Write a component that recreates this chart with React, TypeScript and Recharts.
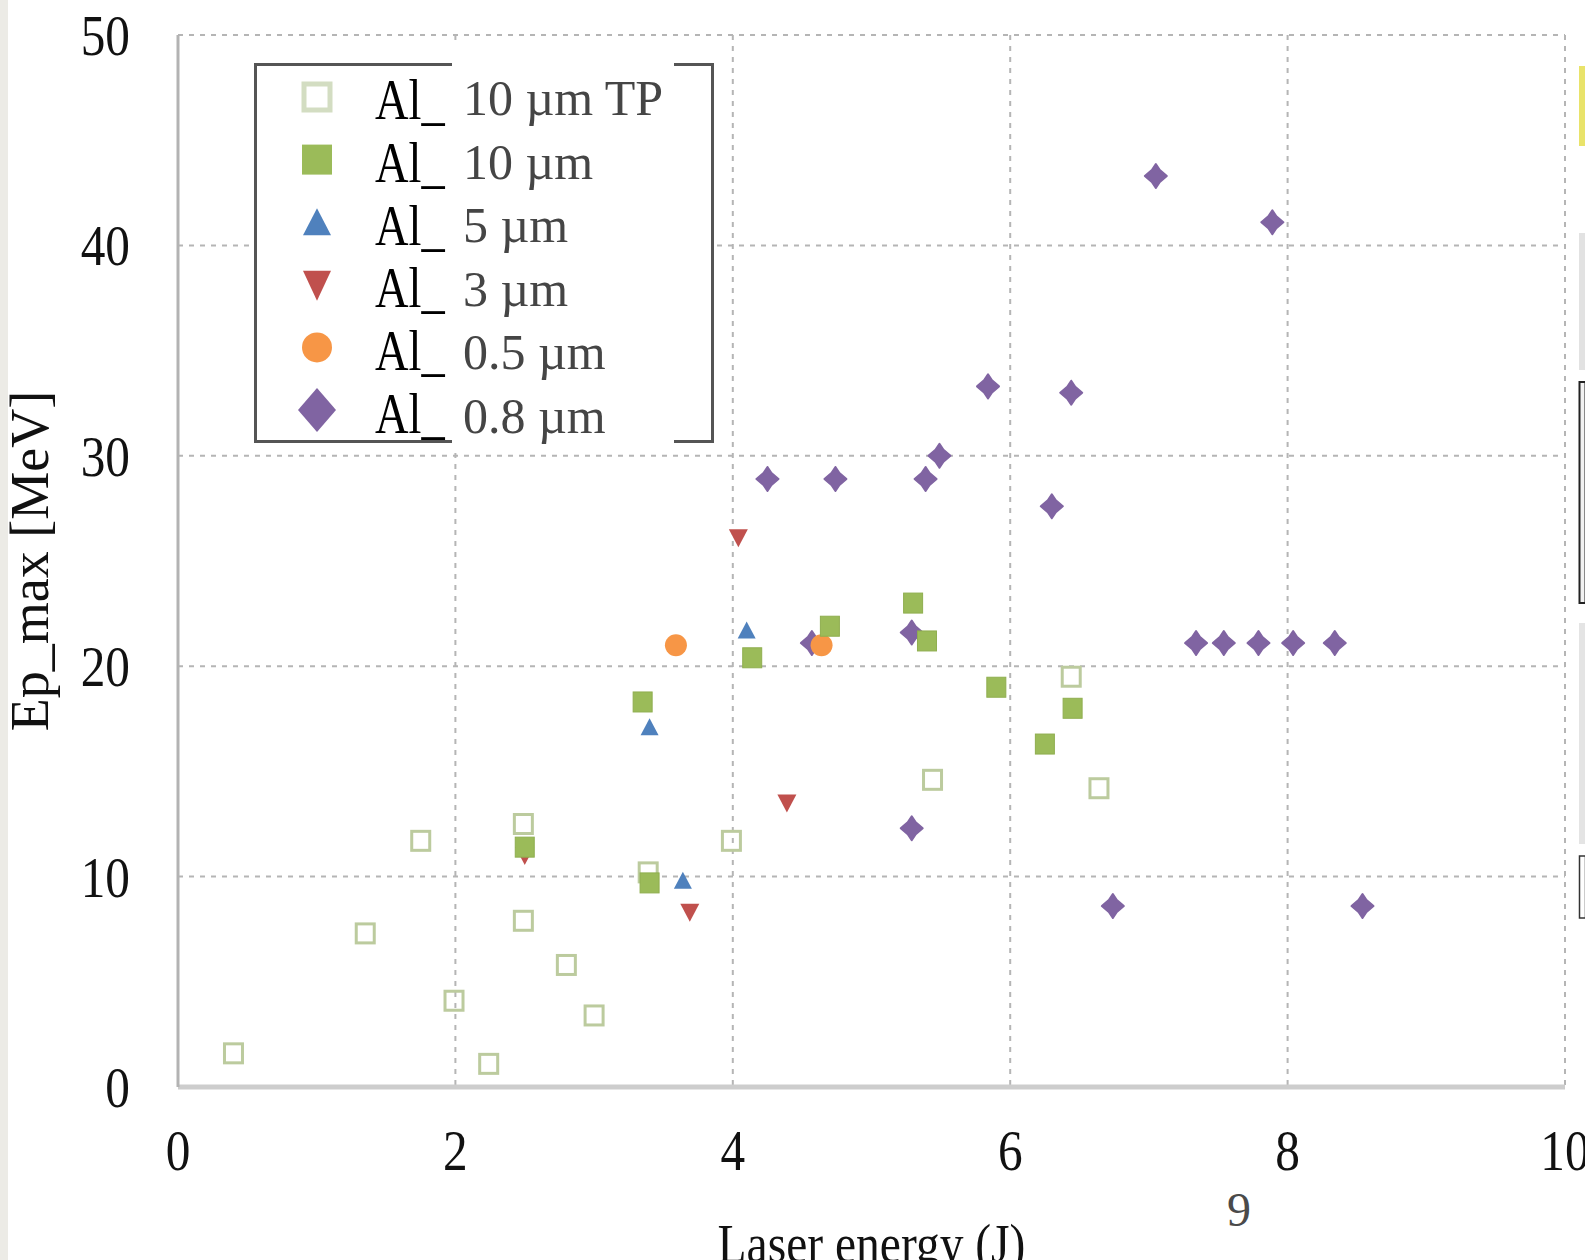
import React from 'react'
import { CartesianGrid, Legend, Scatter, ScatterChart, XAxis, YAxis } from 'recharts'

// Laser energy (J) / Ep_max (MeV), one pair of arrays per target
const tpEnergy = [0.4, 1.35, 1.75, 1.99, 2.24, 2.49, 2.49, 2.8, 3.0, 3.39, 3.99, 5.44, 6.44, 6.64]
const tpEp = [1.6, 7.3, 11.7, 4.1, 1.1, 12.5, 7.9, 5.8, 3.4, 10.2, 11.7, 14.6, 19.5, 14.2]

const al10Energy = [2.5, 3.35, 3.4, 4.14, 4.7, 5.3, 5.4, 5.9, 6.25, 6.45]
const al10Ep = [11.4, 18.3, 9.7, 20.4, 21.9, 23.0, 21.2, 19.0, 16.3, 18.0]

const al5Energy = [3.4, 3.64, 4.1]
const al5Ep = [17.1, 9.8, 21.7]

const al3Energy = [2.5, 3.69, 4.04, 4.39]
const al3Ep = [11.0, 8.3, 26.1, 13.5]

const al05Energy = [3.59, 4.64]
const al05Ep = [21.0, 21.0]

const al08Energy = [4.25, 4.57, 4.74, 5.29, 5.29, 5.39, 5.49, 5.84, 6.3, 6.44, 6.74, 7.05, 7.34, 7.54, 7.79, 7.89, 8.04, 8.34, 8.54]
const al08Ep = [28.9, 21.1, 28.9, 21.6, 12.3, 28.9, 30.0, 33.3, 27.6, 33.0, 8.6, 43.3, 21.1, 21.1, 21.1, 41.1, 21.1, 21.1, 8.6]

const seriesLabels = ['10 µm TP', '10 µm', '5 µm', '3 µm', '0.5 µm', '0.8 µm']
const energyTicks = [0, 2, 4, 6, 8, 10]
const epTicks = [0, 10, 20, 30, 40, 50]

const toPoints = (xs: number[], ys: number[]) => xs.map((x, i) => ({ energy: x, ep: ys[i] }))

const SERIF = "'Liberation Serif', 'Times New Roman', serif"
const GREEN = '#9bbb59'
const BLUE = '#4f81bd'
const RED = '#c0504d'
const ORANGE = '#f79646'
const PURPLE = '#8064a2'
const PALE = '#bccb9e'

const openSquare = (p: any) => (
  <rect x={p.cx - 9} y={p.cy - 9.5} width={18} height={19} fill="none" stroke={PALE} strokeWidth={3} />
)
const greenSquare = (p: any) => (
  <rect x={p.cx - 9.5} y={p.cy - 10} width={19} height={20} fill={GREEN} stroke="#8fae4f" strokeWidth={1} />
)
const triUp = (p: any) => (
  <polygon points={`${p.cx},${p.cy - 9} ${p.cx + 9},${p.cy + 8} ${p.cx - 9},${p.cy + 8}`} fill={BLUE} />
)
const triDown = (p: any) => (
  <polygon points={`${p.cx - 9.5},${p.cy - 8.5} ${p.cx + 9.5},${p.cy - 8.5} ${p.cx},${p.cy + 9.5}`} fill={RED} />
)
const dot = (p: any) => <circle cx={p.cx} cy={p.cy} r={11} fill={ORANGE} />
const diamond = (p: any) => (
  <polygon
    points={`${p.cx},${p.cy - 12} ${p.cx + 4},${p.cy - 6} ${p.cx + 11},${p.cy} ${p.cx + 4},${p.cy + 6} ${p.cx},${p.cy + 12} ${p.cx - 4},${p.cy + 6} ${p.cx - 11},${p.cy} ${p.cx - 4},${p.cy - 6}`}
    fill={PURPLE}
    stroke={PURPLE}
    strokeWidth={2}
    strokeLinejoin="round"
  />
)

const YTick = ({ x, y, payload }: any) => (
  <g transform={`translate(${x - 48},${y + 20})`}>
    <text textAnchor="end" transform="scale(0.88,1)" fontFamily={SERIF} fontSize={56} fill="#111">
      {payload.value}
    </text>
  </g>
)

const XTick = ({ x, y, payload }: any) => (
  <g transform={`translate(${x},${y + 83})`}>
    <text textAnchor="middle" transform="scale(0.88,1)" fontFamily={SERIF} fontSize={56} fill="#111">
      {payload.value}
    </text>
  </g>
)

const YTitle = (props: any) => {
  const vb = props.viewBox
  return (
    <text
      transform={`translate(${vb.x - 70},${vb.y + vb.height / 2}) rotate(-90)`}
      textAnchor="middle"
      fontFamily={SERIF}
      fontSize={54}
      fill="#111"
    >
      Ep_max [MeV]
    </text>
  )
}

const XTitle = (props: any) => {
  const vb = props.viewBox
  return (
    <g transform={`translate(${vb.x + vb.width / 2},${vb.y + 175})`}>
      <text textAnchor="middle" transform="scale(0.88,1)" fontFamily={SERIF} fontSize={54} fill="#111">
        Laser energy (J)
      </text>
    </g>
  )
}

// legend icons, drawn the same way as the plot markers but larger
const legendIcon = (i: number, cx: number, cy: number) => {
  switch (i) {
    case 0:
      return <rect x={cx - 13} y={cy - 13} width={26} height={26} fill="none" stroke="#d3ddc2" strokeWidth={5} />
    case 1:
      return <rect x={cx - 15} y={cy - 15} width={30} height={30} fill={GREEN} />
    case 2:
      return <polygon points={`${cx},${cy - 14} ${cx + 14},${cy + 13} ${cx - 14},${cy + 13}`} fill={BLUE} />
    case 3:
      return <polygon points={`${cx - 14},${cy - 14} ${cx + 14},${cy - 14} ${cx},${cy + 16}`} fill={RED} />
    case 4:
      return <circle cx={cx} cy={cy} r={15} fill={ORANGE} />
    default:
      return <polygon points={`${cx},${cy - 22} ${cx + 19},${cy} ${cx},${cy + 22} ${cx - 19},${cy}`} fill={PURPLE} />
  }
}

const renderLegend = () => (
  <svg width={760} height={460} style={{ display: 'block' }}>
    <rect x={255.5} y={64.5} width={457} height={377} fill="#fff" stroke="#555" strokeWidth={3} />
    {seriesLabels.map((label, i) => (
      <g key={label}>
        {legendIcon(i, 317, 97 + 62.6 * i)}
        <g transform={`translate(375,${119 + 62.8 * i})`}>
          <text transform="scale(0.8,1)" fontFamily={SERIF} fontSize={58} fill="#000">
            Al_
          </text>
        </g>
      </g>
    ))}
    {/* pasted-over patch with the grey labels */}
    <rect x={452} y={45} width={222} height={402} fill="#fff" />
    {seriesLabels.map((label, i) => (
      <text key={label} x={463} y={115 + 63.6 * i} fontFamily={SERIF} fontSize={50} fill="#454545">
        {label}
      </text>
    ))}
  </svg>
)

const App = () => {
  return (
    <div style={{ position: 'absolute', left: 0, top: 0, width: 1585, height: 1260, background: '#fff', overflow: 'hidden' }}>
      <ScatterChart width={1585} height={1260} margin={{ top: 35, right: 20, bottom: 143, left: 118 }}>
        <CartesianGrid stroke="#b5b5b5" strokeWidth={2} strokeDasharray="5 6" />
        <XAxis
          type="number"
          dataKey="energy"
          domain={[0, 10]}
          ticks={energyTicks}
          tickSize={0}
          tickMargin={0}
          tick={<XTick />}
          axisLine={{ stroke: '#cdcdcd', strokeWidth: 5 }}
          label={<XTitle />}
        />
        <YAxis
          type="number"
          dataKey="ep"
          domain={[0, 50]}
          ticks={epTicks}
          width={60}
          tickSize={0}
          tickMargin={0}
          tick={<YTick />}
          axisLine={{ stroke: '#b3b3b3', strokeWidth: 3 }}
          label={<YTitle />}
        />
        <Legend
          layout="vertical"
          align="center"
          verticalAlign="middle"
          content={renderLegend}
          wrapperStyle={{ left: 0, top: 0, width: 760, height: 460 }}
        />
        <Scatter name="Al_0.8 µm" data={toPoints(al08Energy, al08Ep)} shape={diamond} isAnimationActive={false} />
        <Scatter name="Al_0.5 µm" data={toPoints(al05Energy, al05Ep)} shape={dot} isAnimationActive={false} />
        <Scatter name="Al_3 µm" data={toPoints(al3Energy, al3Ep)} shape={triDown} isAnimationActive={false} />
        <Scatter name="Al_5 µm" data={toPoints(al5Energy, al5Ep)} shape={triUp} isAnimationActive={false} />
        <Scatter name="Al_10 µm TP" data={toPoints(tpEnergy, tpEp)} shape={openSquare} isAnimationActive={false} />
        <Scatter name="Al_10 µm" data={toPoints(al10Energy, al10Ep)} shape={greenSquare} isAnimationActive={false} />
      </ScatterChart>
      {/* page scraps around the scanned figure */}
      <svg width={1585} height={1260} style={{ position: 'absolute', left: 0, top: 0, pointerEvents: 'none' }}>
        <rect x={0} y={0} width={8} height={1260} fill="#ecebe6" />
        <text x={1239} y={1226} textAnchor="middle" fontFamily={SERIF} fontSize={48} fill="#4a4a4a">9</text>
        <rect x={1579} y={66} width={6} height={80} fill="#e9e36a" />
        <rect x={1579} y={233} width={6} height={137} fill="#e2e2e2" />
        <rect x={1579.5} y={382} width={6} height={221} fill="#f2f2f2" stroke="#222" strokeWidth={2} />
        <rect x={1579} y={623} width={6} height={221} fill="#e4e4e4" />
        <rect x={1579.5} y={856} width={6} height={62} fill="#fff" stroke="#333" strokeWidth={1.5} />
      </svg>
    </div>
  )
}

export default App
